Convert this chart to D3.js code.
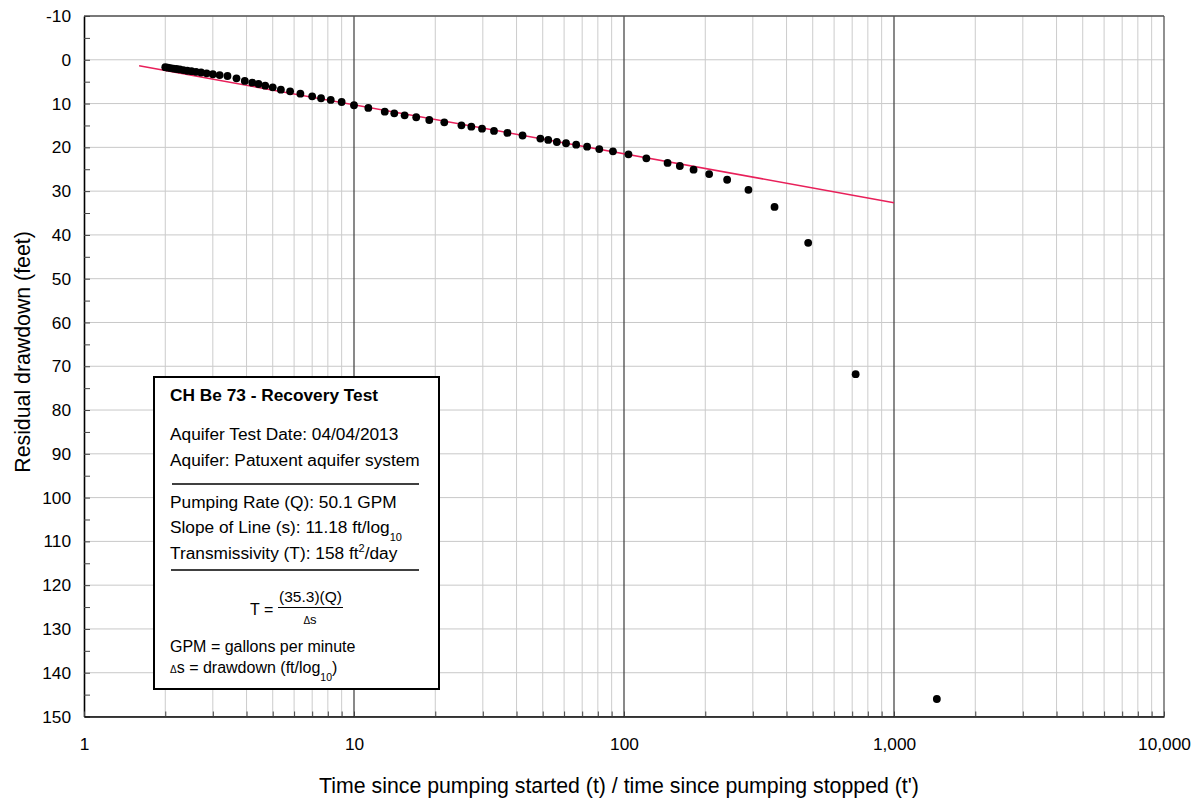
<!DOCTYPE html>
<html>
<head>
<meta charset="utf-8">
<script src="https://cdn.jsdelivr.net/npm/d3@7"></script>
<style>
  html, body { margin: 0; padding: 0; background: #fff; }
  svg { display: block; font-family: Arial, "Liberation Sans", sans-serif; }
</style>
</head>
<body>
<svg id="chart" width="1200" height="800"></svg>
<script>
// Ratio t/t' for each recovery reading
const timeRatio = [
  2.0, 2.043, 2.091, 2.143, 2.2, 2.263, 2.333, 2.412, 2.5, 2.6,
  2.714, 2.846, 3.0, 3.18, 3.4, 3.67, 3.94, 4.2, 4.43, 4.69,
  5.0, 5.36, 5.8, 6.33, 7.0, 7.55, 8.2, 9.0, 10.0, 11.3,
  13.0, 14.1, 15.4, 17.0, 19.0, 21.6, 25.0, 27.2, 29.8, 33.0,
  37.0, 42.1, 49.0, 52.4, 56.4, 61.0, 66.5, 73.0, 81.0, 91.0,
  103.9, 121.0, 145.0, 161.0, 181.0, 206.7, 241.0, 289.0, 361.0, 481.0,
  721.0, 1441.0
];
// Residual drawdown (feet) for each reading
const residualDrawdown = [
  1.7, 1.8, 1.9, 2.0, 2.1, 2.2, 2.35, 2.5, 2.6, 2.75,
  2.9, 3.1, 3.3, 3.5, 3.7, 4.23, 4.84, 5.23, 5.53, 5.92,
  6.28, 6.83, 7.2, 7.74, 8.34, 8.79, 9.18, 9.64, 10.39, 11.0,
  11.85, 12.22, 12.68, 13.13, 13.75, 14.28, 14.96, 15.28, 15.74, 16.26,
  16.7, 17.3, 18.0, 18.3, 18.78, 19.07, 19.4, 19.85, 20.4, 20.9,
  21.6, 22.5, 23.57, 24.26, 25.1, 26.1, 27.4, 29.7, 33.6, 41.8,
  71.8, 146.0
];
// Straight-line fit (11.18 ft per log cycle)
const fitRatio = [1.6, 1000];
const fitDrawdown = [1.38, 32.64];

// Axis tick values
const yTickValues = d3.range(-10, 151, 5);
const yLabelValues = d3.range(-10, 151, 10);
const decades = [1, 10, 100, 1000, 10000];
const xMinorValues = [1, 10, 100, 1000].flatMap(d => d3.range(2, 10).map(m => m * d));

const svg = d3.select("#chart");
const x = d3.scaleLog().domain([1, 10000]).range([84, 1164]);
const y = d3.scaleLinear().domain([-10, 150]).range([16, 716.5]);

// Grid
const grid = svg.append("g");
grid.selectAll("line.h").data(yLabelValues).join("line")
  .attr("x1", x(1)).attr("x2", x(10000))
  .attr("y1", d => y(d)).attr("y2", d => y(d))
  .attr("stroke", "#c8c8c8").attr("stroke-width", 1);
grid.selectAll("line.vm").data(xMinorValues).join("line")
  .attr("x1", d => x(d)).attr("x2", d => x(d))
  .attr("y1", y(-10)).attr("y2", y(150))
  .attr("stroke", "#cccccc").attr("stroke-width", 1);
grid.selectAll("line.vd").data([10, 100, 1000]).join("line")
  .attr("x1", d => x(d)).attr("x2", d => x(d))
  .attr("y1", y(-10)).attr("y2", y(150))
  .attr("stroke", "#4a4a4a").attr("stroke-width", 1.3);

// Top and right frame
svg.append("line").attr("x1", x(1)).attr("x2", x(10000)).attr("y1", y(-10)).attr("y2", y(-10))
  .attr("stroke", "#555").attr("stroke-width", 1.3);
svg.append("line").attr("x1", x(10000)).attr("x2", x(10000)).attr("y1", y(-10)).attr("y2", y(150))
  .attr("stroke", "#555").attr("stroke-width", 1.3);

// Axes
const yAxis = d3.axisLeft(y).tickValues(yTickValues).tickSize(-6).tickSizeOuter(0).tickPadding(13)
  .tickFormat(d => d % 10 === 0 ? d : "");
const yG = svg.append("g").attr("transform", `translate(${x(1)},0)`).call(yAxis);
const xAxis = d3.axisBottom(x).tickValues(decades.concat(xMinorValues)).tickSize(-5).tickSizeOuter(0).tickPadding(21)
  .tickFormat(d => decades.includes(d) ? d3.format(",")(d) : "");
const xG = svg.append("g").attr("transform", `translate(0,${y(150)})`).call(xAxis);
[yG, xG].forEach(g => {
  g.select(".domain").attr("stroke", "#000").attr("stroke-width", 1.6);
  g.selectAll(".tick line").attr("stroke", "#444");
  g.selectAll(".tick text").attr("fill", "#000").style("font-size", "17.3px")
    .style("font-family", "Arial, 'Liberation Sans', sans-serif");
});

// Axis titles
svg.append("text").attr("transform", "translate(29.5,352) rotate(-90)")
  .attr("text-anchor", "middle").style("font-size", "21.3px").text("Residual drawdown (feet)");
svg.append("text").attr("x", 619).attr("y", 793)
  .attr("text-anchor", "middle").style("font-size", "21.3px")
  .text("Time since pumping started (t) / time since pumping stopped (t')");

// Fitted line
const line = d3.line().x(d => x(d[0])).y(d => y(d[1]));
svg.append("path").datum(d3.zip(fitRatio, fitDrawdown))
  .attr("d", line).attr("fill", "none").attr("stroke", "#e8205a").attr("stroke-width", 1.5);

// Observations
svg.append("g").selectAll("circle").data(d3.zip(timeRatio, residualDrawdown)).join("circle")
  .attr("cx", d => x(d[0])).attr("cy", d => y(d[1])).attr("r", 3.9).attr("fill", "#000");

// Info box
const box = svg.append("g");
box.append("rect").attr("x", 154).attr("y", 377).attr("width", 285).attr("height", 312)
  .attr("fill", "#fff").attr("stroke", "#000").attr("stroke-width", 2);
const tx = 170;
box.append("text").attr("x", tx).attr("y", 401).style("font-size", "17.3px").style("font-weight", "bold")
  .text("CH Be 73 - Recovery Test");
box.append("text").attr("x", tx).attr("y", 440).style("font-size", "17.3px").text("Aquifer Test Date: 04/04/2013");
box.append("text").attr("x", tx).attr("y", 466).style("font-size", "17.3px").text("Aquifer: Patuxent aquifer system");
box.append("line").attr("x1", 172).attr("x2", 419).attr("y1", 484).attr("y2", 484).attr("stroke", "#000").attr("stroke-width", 1.6);
box.append("text").attr("x", tx).attr("y", 508).style("font-size", "17.3px").text("Pumping Rate (Q): 50.1 GPM");
const slope = box.append("text").attr("x", tx).attr("y", 533).style("font-size", "17.3px");
slope.append("tspan").text("Slope of Line (s): 11.18 ft/log");
slope.append("tspan").attr("dy", 8).style("font-size", "11px").text("10");
const trans = box.append("text").attr("x", tx).attr("y", 559).style("font-size", "17.3px");
trans.append("tspan").text("Transmissivity (T): 158 ft");
trans.append("tspan").attr("dy", -7).style("font-size", "11px").text("2");
trans.append("tspan").attr("dy", 7).text("/day");
box.append("line").attr("x1", 171).attr("x2", 419).attr("y1", 570).attr("y2", 570).attr("stroke", "#000").attr("stroke-width", 1.6);
box.append("text").attr("x", 250).attr("y", 615).style("font-size", "16px").text("T =");
box.append("text").attr("x", 310.5).attr("y", 602).attr("text-anchor", "middle").style("font-size", "15.5px").text("(35.3)(Q)");
box.append("line").attr("x1", 278).attr("x2", 343).attr("y1", 607.5).attr("y2", 607.5).attr("stroke", "#000").attr("stroke-width", 1.2);
const den = box.append("text").attr("x", 310).attr("y", 624).attr("text-anchor", "middle").style("font-size", "13px");
den.append("tspan").style("font-size", "10px").text("Δ");
den.append("tspan").text("s");
box.append("text").attr("x", tx).attr("y", 651.5).style("font-size", "16px").text("GPM = gallons per minute");
const ds = box.append("text").attr("x", tx).attr("y", 673).style("font-size", "16px");
ds.append("tspan").style("font-size", "10px").text("Δ");
ds.append("tspan").text("s = drawdown (ft/log");
ds.append("tspan").attr("dy", 8).style("font-size", "10.5px").text("10");
ds.append("tspan").attr("dy", -8).text(")");
</script>
</body>
</html>
